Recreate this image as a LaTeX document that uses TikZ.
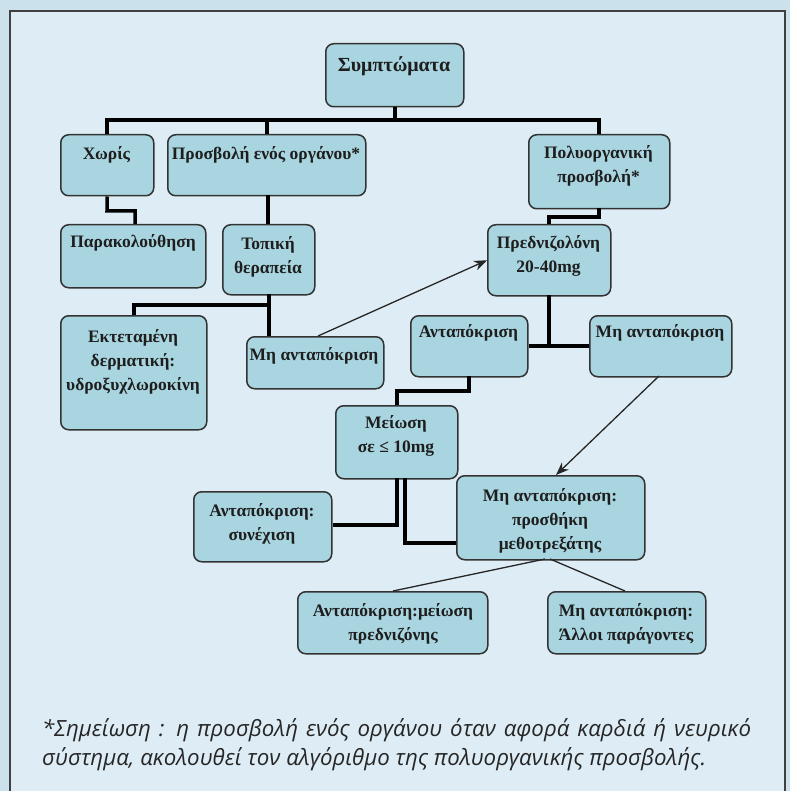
\documentclass[tikz,border=0pt]{standalone}
\usepackage{fontspec}
\setmainfont{Liberation Serif}
\newfontfamily\notefont{Open Sans}
\usetikzlibrary{arrows.meta,calc}
\definecolor{outerbg}{HTML}{CBE1EC}
\definecolor{innerbg}{HTML}{DEEDF5}
\definecolor{boxfill}{HTML}{A9D5E0}
\definecolor{boxline}{HTML}{333333}
\definecolor{txtcol}{HTML}{1E1E1E}
\tikzset{
  bx/.style={draw=boxline, line width=1.5pt, fill=boxfill, rounded corners=8pt,
    inner sep=0pt, anchor=north west},
  tx/.style={font=\fontsize{17.5}{24}\selectfont\bfseries, text=txtcol, align=center, inner sep=0pt},
  thick conn/.style={line width=3.5pt, draw=black},
  thin conn/.style={line width=1.3pt, draw=black!85},
  arr/.style={thin conn, -{Stealth[length=13pt,width=10pt]}}
}
\newcommand{\mkbox}[5]{% name, x1,y1,x2,y2
  \node[bx, minimum width=#4pt-#2pt, minimum height=#5pt-#3pt] (#1) at (#2,#3) {};}
\begin{document}
\begin{tikzpicture}[x=1pt,y=-1pt]
\useasboundingbox (0,0) rectangle (790,791);
\clip (0,0) rectangle (790,791);
\fill[outerbg] (0,0) rectangle (790,791);
\draw[fill=innerbg, draw=black!75, line width=2pt] (10,11) rectangle (785,800);

% boxes
\mkbox{sym}{325}{43}{463}{106}
\mkbox{chor}{60}{134}{153}{195}
\mkbox{ena}{167}{134}{365}{195}
\mkbox{poly}{528}{134}{669}{208}
\mkbox{para}{60}{224}{205}{287}
\mkbox{top}{222}{224}{314}{294}
\mkbox{ekt}{60}{315}{206}{429}
\mkbox{mhL}{246}{336}{383}{388}
\mkbox{pred}{487}{224}{610}{295}
\mkbox{antM}{410}{315}{527}{376}
\mkbox{mhR}{589}{315}{731}{376}
\mkbox{meio}{335}{405}{457}{478}
\mkbox{syn}{193}{491}{331}{561}
\mkbox{pros}{456}{475}{644}{559}
\mkbox{antm}{297}{591}{487}{653}
\mkbox{allo}{547}{591}{705}{653}

% texts
\node[tx, font=\fontsize{20}{24}\selectfont\bfseries] (sym-t) at (394,66) {Συμπτώματα};
\node[tx] (chor-t) at (106.5,155) {Χωρίς};
\node[tx] (ena-t) at (266,155) {Προσβολή ενός οργάνου*};
\node[tx] (poly-t) at (598.5,166) {Πολυοργανική\\προσβολή*};
\node[tx] (para-t) at (133,243) {Παρακολούθηση};
\node[tx] (top-t) at (268,256.5) {Τοπική\\θεραπεία};
\node[tx] (ekt-t) at (133,361.5) {Εκτεταμένη\\δερματική:\\υδροξυχλωροκίνη};
\node[tx] (mhL-t) at (314,356) {Μη ανταπόκριση};
\node[tx] (pred-t) at (548.5,255.5) {Πρεδνιζολόνη\\20-40mg};
\node[tx] (antM-t) at (468.5,333) {Ανταπόκριση};
\node[tx] (mhR-t) at (660,333) {Μη ανταπόκριση};
\node[tx] (meio-t) at (396,435.5) {Μείωση\\σε ≤ 10mg};
\node[tx] (syn-t) at (262,523.5) {Ανταπόκριση:\\συνέχιση};
\node[tx] (pros-t) at (550,521) {Μη ανταπόκριση:\\προσθήκη\\μεθοτρεξάτης};
\node[tx] (antm-t) at (393,624) {Ανταπόκριση:μείωση\\πρεδνιζόνης};
\node[tx] (allo-t) at (626,623.5) {Μη ανταπόκριση:\\Άλλοι παράγοντες};

% thick connectors
\coordinate (busL) at (107,120);
\coordinate (busR) at (599,120);
\draw[thick conn] (sym.south) -- (sym.south |- busL);
\draw[thick conn] ([xshift=-1.75pt]busL) -- ([xshift=1.75pt]busR);
\draw[thick conn] (busL) -- (busL |- chor.north);
\draw[thick conn] (ena.north |- busL) -- (ena.north);
\draw[thick conn] (busR) -- (busR |- poly.north);

\draw[thick conn] (chor.south) -- (107,211) -- (135,211) -- (135,224);
\draw[thick conn] (268,195) -- (268,224);

\draw[thick conn] (269,294) -- (269,336);
\draw[thick conn] (134,315) -- (134,305) -- (270.75,305);

\draw[thick conn] (599,208) -- (599,217) -- (549,217) -- (549,224);
\draw[thick conn] (549,295) -- (549,346);
\draw[thick conn] (antM.east |- 0,346) -- (mhR.west |- 0,346);

\draw[thick conn] (469,376) -- (469,391) -- (397,391) -- (397,405);
\draw[thick conn] (397,478) -- (397,525) -- (syn.east |- 0,525);
\draw[thick conn] (405,478) -- (405,543) -- (pros.west |- 0,543);

% thin connectors
\draw[arr] (318,336) -- (pred.west);
\draw[arr] (659,376) -- (556,475);
\draw[thin conn] (545,559) -- (393,591);
\draw[thin conn] (550,559) -- (625,591);

% footnote
\node[anchor=north west, inner sep=0pt, text width=709pt, align=justify,
  font=\notefont\itshape\fontsize{22.3}{29}\selectfont, text=black!85] (note) at (42,718)
  {*Σημείωση : η προσβολή ενός οργάνου όταν αφορά καρδιά ή νευρικό\linebreak σύστημα, ακολουθεί τον αλγόριθμο της πολυοργανικής προσβολής.};
\end{tikzpicture}
\end{document}
